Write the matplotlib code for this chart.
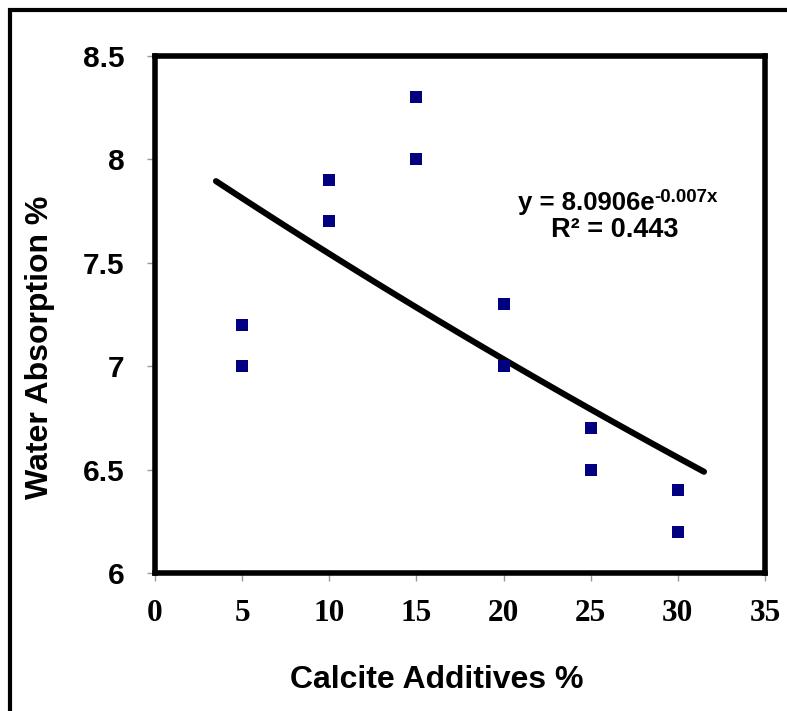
import matplotlib
matplotlib.use('Agg')
import matplotlib.pyplot as plt
import numpy as np
from matplotlib.patches import Rectangle

# 数据
calcite = [5, 5, 10, 10, 15, 15, 20, 20, 25, 25, 30, 30]
absorption = [7.2, 7.0, 7.9, 7.7, 8.3, 8.0, 7.3, 7.0, 6.7, 6.5, 6.4, 6.2]
# 趋势线 y = a*exp(b*x)
fit_a = 8.0906
fit_b = -0.007
trend_range = [3.5, 31.5]
x_ticks = [0, 5, 10, 15, 20, 25, 30, 35]
y_ticks = [6, 6.5, 7, 7.5, 8, 8.5]
y_ticklabels = ['6', '6.5', '7', '7.5', '8', '8.5']

W, H = 787, 711
fig = plt.figure(figsize=(W / 100, H / 100), dpi=100)
ax = fig.add_axes([155 / W, 1 - 573 / H, (765 - 155) / W, (573 - 56) / H])

# 外框
fig.patches.append(Rectangle((10 / W, -0.1), 1.2, 1 - 9.5 / H + 0.1, transform=fig.transFigure,
                             fill=False, edgecolor='black', linewidth=3, clip_on=False))

xt = np.linspace(trend_range[0], trend_range[1], 100)
ax.plot(xt, fit_a * np.exp(fit_b * xt), color='black', linewidth=4.4, solid_capstyle='round', zorder=2)
ax.scatter(calcite, absorption, marker='s', s=80, color='#000080', zorder=3, linewidths=0)

ax.set_xlim(0, 35)
ax.set_ylim(6, 8.5)
ax.set_xticks(x_ticks)
ax.set_yticks(y_ticks)
ax.set_yticklabels(y_ticklabels)
for sp in ax.spines.values():
    sp.set_linewidth(4)
ax.tick_params(direction='out', length=6, width=1, color='#999999')
ax.tick_params(axis='y', pad=16)
ax.tick_params(axis='x', pad=13)
for lab in ax.get_xticklabels():
    lab.set_fontfamily('Liberation Serif')
    lab.set_fontweight('bold')
    lab.set_fontsize(22.5)
for lab in ax.get_yticklabels():
    lab.set_fontfamily('Liberation Sans')
    lab.set_fontweight('bold')
    lab.set_fontsize(21.5)

fig.text(437 / W, 1 - 680 / H, 'Calcite Additives %', ha='center', va='center',
         fontsize=23, fontweight='bold', family='Liberation Sans')
fig.text(40 / W, 1 - 347 / H, 'Water Absorption %', ha='center', va='center', rotation=90,
         fontsize=23, fontweight='bold', family='Liberation Sans')

# 趋势线公式
eq = fig.text(518 / W, 1 - 210 / H, 'y = 8.0906e', ha='left', va='baseline',
              fontsize=18.5, fontweight='bold', family='Liberation Sans')
ax.annotate('-0.007x', xy=(1, 0), xycoords=eq, xytext=(0, 13), textcoords='offset pixels',
            ha='left', va='baseline', fontsize=13.5, fontweight='bold', family='Liberation Sans')
fig.text(615 / W, 1 - 237 / H, 'R² = 0.443', ha='center', va='baseline',
         fontsize=19.5, fontweight='bold', family='Liberation Sans')

plt.savefig('out.png', dpi=100)
